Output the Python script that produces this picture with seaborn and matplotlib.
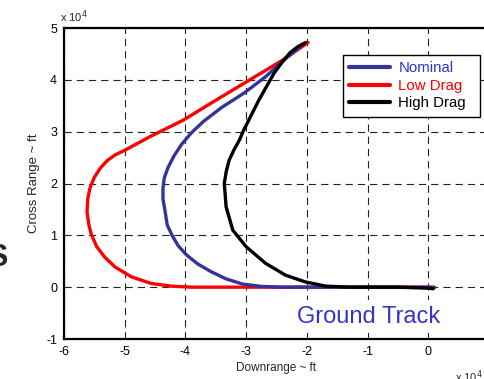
import matplotlib
matplotlib.use("Agg")
import matplotlib.pyplot as plt
import seaborn as sns
import pandas as pd

# ---- data (units of 1e4 ft) ----
nominal_x = [-2.05, -2.35, -2.68, -3.04, -3.40, -3.70, -3.90, -4.06, -4.19, -4.29, -4.35,
             -4.37, -4.37, -4.34, -4.30, -4.22, -4.12, -3.98, -3.80, -3.58, -3.33, -3.06,
             -2.75, -2.4, -2.0, -1.0, 0.0, 0.1]
nominal_y = [4.70, 4.41, 4.06, 3.74, 3.47, 3.20, 2.98, 2.76, 2.53, 2.30, 2.10,
             1.90, 1.70, 1.50, 1.20, 1.00, 0.80, 0.62, 0.45, 0.30, 0.16, 0.06,
             0.015, 0.0, 0.0, 0.0, 0.0, -0.01]

low_x = [-1.98, -2.40, -3.04, -3.55, -4.04, -4.59, -5.0, -5.16, -5.29, -5.40, -5.50, -5.57,
         -5.61, -5.62, -5.59, -5.55, -5.46, -5.33, -5.16, -4.89, -4.56, -4.23, -3.9,
         -3.0, -2.0, -1.0, 0.0, 0.1]
low_y = [4.72, 4.38, 3.93, 3.57, 3.22, 2.90, 2.64, 2.55, 2.44, 2.30, 2.12, 1.92,
         1.70, 1.45, 1.20, 1.02, 0.78, 0.58, 0.39, 0.20, 0.07, 0.02, 0.0,
         0.0, 0.0, 0.0, 0.0, 0.0]

high_x = [-2.02, -2.15, -2.28, -2.40, -2.54, -2.79, -3.04, -3.11, -3.20, -3.28, -3.33, -3.36,
          -3.33, -3.22, -3.0, -2.68, -2.35, -2.02, -1.69, -1.3, -1.0, -0.5, 0.0, 0.08]
high_y = [4.72, 4.64, 4.52, 4.35, 4.13, 3.61, 3.03, 2.84, 2.65, 2.45, 2.22, 2.0,
          1.55, 1.10, 0.78, 0.46, 0.23, 0.10, 0.02, 0.0, 0.0, 0.0, -0.02, -0.03]

x_ticks = [-6, -5, -4, -3, -2, -1, 0]
y_ticks = [-1, 0, 1, 2, 3, 4, 5]

series = [
    ("Low Drag", low_x, low_y, "#ff0000"),
    ("Nominal", nominal_x, nominal_y, "#333399"),
    ("High Drag", high_x, high_y, "#000000"),
]

sns.set_theme(style="white")
plt.rcParams["font.family"] = ["Liberation Sans", "DejaVu Sans"]

fig = plt.figure(figsize=(4.85, 3.79), dpi=100)
ax = fig.add_axes([64 / 485, 40 / 379, 425 / 485, 311 / 379])

for name, xs, ys, col in series:
    df = pd.DataFrame({"x": xs, "y": ys})
    sns.lineplot(data=df, x="x", y="y", sort=False, estimator=None, color=col,
                 lw=2.4, ax=ax, label=name)

ax.set_xlim(-6, 1)
ax.set_ylim(-1, 5)
ax.set_xticks(x_ticks)
ax.set_yticks(y_ticks)
ax.set_xticklabels([str(t) for t in x_ticks])
ax.set_yticklabels([str(t) for t in y_ticks])
ax.grid(True, color="#222222", lw=0.8, linestyle=(0, (6.5, 4.5)))
ax.set_axisbelow(True)
for s in ["left", "bottom", "top", "right"]:
    ax.spines[s].set_color("black")
    ax.spines[s].set_linewidth(1.6)
ax.tick_params(direction="in", length=3, width=0.8, labelsize=9, colors="black", pad=5)

ax.set_xlabel("Downrange ~ ft", fontsize=8.5, labelpad=3)
ax.set_ylabel("Cross Range ~ ft", fontsize=9.5, labelpad=4)

# legend in Nominal, Low Drag, High Drag order
h, l = ax.get_legend_handles_labels()
order = [l.index("Nominal"), l.index("Low Drag"), l.index("High Drag")]
x0 = (343 - 64) / 425
top = (339 - 55) / 311
lw_ = 137 / 425
lh = 62 / 311
leg = ax.legend([h[i] for i in order], [l[i] for i in order],
                loc="upper left", bbox_to_anchor=(x0, top - lh, lw_, lh), mode="expand",
                fontsize=10.8, frameon=True, fancybox=False, framealpha=1,
                edgecolor="black", handlelength=2.67, handletextpad=0.6,
                borderpad=0.43, labelspacing=0.23, borderaxespad=0)
leg.get_frame().set_linewidth(1.0)
for txt, col in zip(leg.get_texts(), ["#3333cc", "#ff0000", "#000000"]):
    txt.set_color(col)
for ln in leg.get_lines():
    ln.set_linewidth(3)

ax.text(-0.99, -0.57, "Ground Track", color="#3535c8", fontsize=17,
        ha="center", va="center", zorder=5,
        bbox=dict(facecolor="white", edgecolor="none", pad=4))

fig.text(60 / 485, 1 - 17 / 379, r"x 10$^{4}$", fontsize=8, ha="left", va="center")
fig.text(455 / 485, 1 - 377 / 379, r"x 10$^{4}$", fontsize=8, ha="left", va="center")
fig.text(7 / 485, 1 - 258 / 379, "S", fontsize=22, fontweight="bold", ha="right", va="center")

fig.savefig("out.png", dpi=100)
